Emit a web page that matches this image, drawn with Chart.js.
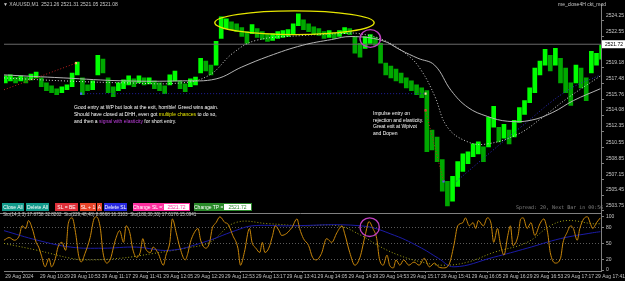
<!DOCTYPE html>
<html>
<head>
<meta charset="utf-8">
<script src="https://cdn.jsdelivr.net/npm/chart.js@4.4.1/dist/chart.umd.min.js"></script>
<style>
html, body { margin: 0; padding: 0; background: #000; overflow: hidden; }
#wrap { position: relative; width: 625px; height: 281px; }
#wrap canvas { position: absolute; left: 0; top: 0; }
.t { position: absolute; font-family: "Liberation Sans", Arial, sans-serif; font-size: 5px; line-height: 1; color: #c8c8c8; white-space: nowrap; }
.note { color: #fff; line-height: 7px; }
.btn { position: absolute; top: 203px; height: 8px; line-height: 8px; font-family: "Liberation Sans", Arial, sans-serif; font-size: 5px; color: #fff; text-align: center; white-space: nowrap; }
.inp { background: #fff; box-sizing: border-box; }
</style>
</head>
<body>
<div id="wrap">
  <canvas id="chart" width="625" height="281"></canvas>

  <div class="t" style="left:3px;top:2px;">▼ XAUUSD,M1&nbsp; 2521.26 2521.31 2521.05 2521.08</div>
  <div class="t" style="left:558px;top:2px;">me_close4H ckt_mod</div>

  <div class="t note" style="left:74px;top:104px;">
    Good entry at WP but look at the exit, horrible! Greed wins again.<br>
    Should have closed at DHH, even got <span style="color:#e6e600">multiple chances</span> to do so,<br>
    and then a <span style="color:#c040e0">signal with elasticity</span> for short entry.
  </div>
  <div class="t note" style="left:373px;top:110px;line-height:6.5px;">
    Impulse entry on<br>rejection and elasticity.<br>Great exit at Wpivot<br>and Dopen
  </div>

  <div class="t" style="left:516px;top:205px;font-family:'DejaVu Sans Mono',monospace;color:#808080;">Spread: 20, Next Bar in 00:56</div>

  <div class="btn" style="left:2px;width:22px;background:#139a8b;">Close All</div>
  <div class="btn" style="left:26px;width:23px;background:#139a8b;">Delete All</div>
  <div class="btn" style="left:55px;width:23px;background:#e0303a;">SL = BE</div>
  <div class="btn" style="left:80px;width:16px;background:#e8452a;">SL + 1</div>
  <div class="btn" style="left:97px;width:5px;background:#e8452a;">A</div>
  <div class="btn" style="left:104px;width:23px;background:#2828e0;">Delete SL</div>
  <div class="btn" style="left:133px;width:30px;background:#ff30a0;">Change SL =&gt;</div>
  <div class="btn inp" style="left:163px;width:27px;border:1px solid #ff30a0;color:#ff30a0;line-height:6px;">2521.72</div>
  <div class="btn" style="left:194px;width:29px;background:#2a8a2a;">Change TP =&gt;</div>
  <div class="btn inp" style="left:223px;width:29px;border:1px solid #2a8a2a;color:#2a8a2a;line-height:6px;">2521.72</div>

  <div class="t" style="left:3px;top:213px;font-size:4.6px;">Sto(14,3,3) 17.8758 32.8202&nbsp; Sto(229,48,48) 8.8668 16.3103&nbsp; Sto(180,30,30) 17.6176 15.0941</div>
</div>

<script>
// minutes after 10:00, 29 Aug 2024
var barStart = 2, barMinutes = 4;

var barHigh = [2518.30,2518.41,2518.19,2518.30,2518.19,2518.51,2518.72,2518.09,2517.56,2517.24,
  2516.92,2517.13,2517.34,2518.62,2519.79,2518.09,2517.34,2517.77,2520.53,2520.11,
  2518.09,2517.13,2517.56,2517.87,2518.30,2517.98,2518.30,2518.09,2518.09,2517.77,
  2517.56,2517.24,2518.41,2518.83,2517.77,2517.45,2517.98,2518.19,2520.21,2519.89,
  2519.47,2522.02,2524.68,2524.47,2524.15,2523.93,2523.51,2523.08,2523.83,2523.40,
  2523.08,2522.87,2522.87,2523.08,2523.19,2523.30,2523.93,2525.00,2524.36,2523.93,
  2523.61,2523.40,2523.08,2523.19,2522.98,2523.19,2523.51,2523.40,2522.55,2521.81,
  2522.55,2522.76,2522.45,2521.81,2519.68,2519.36,2519.04,2518.62,2518.09,2517.77,
  2517.34,2517.02,2516.71,2512.45,2511.71,2509.27,2506.93,2507.46,2509.05,2509.90,
  2510.12,2510.97,2511.18,2510.65,2513.84,2515.01,2512.77,2513.09,2512.45,2513.52,
  2514.90,2515.64,2517.02,2519.15,2519.89,2521.17,2520.53,2521.28,2520.21,2519.15,
  2517.56,2519.47,2519.15,2518.09,2520.96,2520.75,2521.60];
var barLow = [2517.56,2517.77,2517.56,2517.77,2517.56,2517.87,2518.09,2517.13,2516.71,2516.49,
  2516.28,2516.49,2516.81,2517.13,2518.41,2516.28,2516.71,2516.81,2518.41,2518.62,
  2516.49,2516.07,2516.71,2516.92,2517.34,2517.13,2517.56,2517.34,2517.45,2516.92,
  2516.71,2516.39,2517.34,2517.77,2516.92,2516.60,2517.13,2517.34,2518.62,2518.83,
  2518.41,2519.47,2522.34,2523.40,2523.30,2523.08,2522.55,2521.81,2522.87,2522.45,
  2522.23,2522.02,2522.13,2522.34,2522.45,2522.55,2522.87,2523.72,2523.30,2523.08,
  2522.76,2522.66,2522.34,2522.45,2522.34,2522.55,2522.87,2522.76,2520.75,2520.32,
  2521.28,2521.81,2521.60,2519.68,2518.41,2518.09,2517.77,2517.56,2517.02,2516.71,
  2516.28,2515.96,2510.12,2510.33,2509.05,2505.86,2504.27,2504.80,2506.39,2507.99,
  2508.84,2509.58,2509.90,2509.05,2510.65,2512.77,2511.18,2511.60,2510.97,2511.71,
  2513.30,2514.15,2515.43,2516.49,2518.41,2519.47,2518.83,2519.47,2517.56,2516.49,
  2515.11,2517.56,2517.02,2515.64,2518.62,2519.47,2520.11];

var maSlowTime = [1,47,94,140,166,186,207,233,256,271,295,310,323,336,349,362,377,393,411,428,444,465];
var maSlow = [2518.41,2518.09,2517.77,2517.77,2517.98,2519.26,2520.43,2521.60,2522.23,2522.55,2522.13,
  2521.06,2520.21,2519.47,2516.71,2514.90,2513.94,2513.41,2513.52,2514.37,2515.64,2516.92];
var maFastTime = [1,47,94,140,161,179,197,233,264,277,297,316,326,336,346,362,377,401,418,439,465];
var maFast = [2518.09,2517.77,2517.56,2517.56,2518.41,2520.75,2522.13,2522.66,2522.87,2522.87,2522.13,
  2520.43,2518.83,2516.17,2512.77,2511.18,2510.97,2512.03,2513.62,2515.86,2518.30];
var maBlueTime = [353,380,403,439,465];
var maBlue = [2506.93,2510.12,2512.77,2516.71,2518.41];

var bidPrice = 2521.72;
var entryLevel = 2516.39, entryFrom = 61, entryTo = 329;
var trade1Time = [1,57], trade1 = [2516.81,2519.68];
var trade2Time = [329,343], trade2 = [2514.58,2506.93];

var priceTicks = [2524.25,2522.55,2519.18,2517.48,2515.76,2514.08,2512.35,2510.55,2508.85,2507.15,2505.45,2503.75];

var stochTime = [1,5,9,13,15,18,20,23,26,28,30,33,36,38,41,43,46,49,51,54,57,59,61,64,68,71,73,76,78,81,
  84,86,88,91,94,96,99,101,104,107,109,111,115,117,121,125,127,130,132,135,138,142,144,146,149,152,154,158,161,163,
  166,169,173,175,179,183,185,188,192,194,197,200,202,204,207,210,212,215,217,221,225,229,231,234,238,241,244,248,252,256,
  260,264,266,270,274,278,282,285,288,291,293,296,299,301,304,306,309,312,316,320,324,328,332,336,339,343,347,351,354,358,
  360,363,366,368,370,374,377,380,382,385,387,390,393,395,397,401,403,405,408,411,414,418,421,424,426,430,434,436,439,442,
  444,447,449,452,455,457,459,462,465];
var stochMain = [56,61,56,65,83,78,93,78,52,43,28,6,22,6,22,43,52,37,87,98,65,28,15,31,61,96,100,78,33,13,
  22,41,59,74,52,83,69,41,24,33,59,41,33,43,31,9,28,52,96,70,41,19,31,52,70,78,56,41,52,78,
  89,100,89,87,65,41,9,33,78,52,41,33,52,33,41,65,83,74,65,69,80,96,78,59,46,24,19,31,59,52,
  70,83,69,33,9,24,65,91,78,59,22,9,28,9,4,19,9,19,9,15,9,22,6,13,6,4,9,46,83,89,
  98,83,89,78,93,83,98,87,52,78,52,28,65,83,46,65,96,98,78,89,65,87,96,70,33,13,22,52,70,83,
  78,56,78,96,100,89,78,89,98];
var stochSlowTime = [1,27,53,78,104,130,156,181,194,220,279,305,326,339,351,382,408,434,459,465];
var stochSlow = [74,56,43,41,43,37,52,74,83,83,83,65,41,22,6,24,41,59,70,72];
var stochLongTime = [1,27,53,65,91,117,142,161,181,207,233,261,279,292,308,326,343,362,382,408,426,439,459,465];
var stochLong = [50,37,22,19,22,31,41,52,89,87,83,83,65,46,28,15,9,15,33,52,83,93,87,87];

var stochTicks = [0,20,50,80,100];
var tickMinutes = [2,29,53,77,101,125,149,173,197,221,245,269,293,317,341,365,389,413,437,461];
var tickLabels = ['29 Aug 2024','29 Aug 10:29','29 Aug 10:53','29 Aug 11:17','29 Aug 11:41','29 Aug 12:05',
  '29 Aug 12:29','29 Aug 12:53','29 Aug 13:17','29 Aug 13:41','29 Aug 14:05','29 Aug 14:29','29 Aug 14:53',
  '29 Aug 15:17','29 Aug 15:41','29 Aug 16:05','29 Aug 16:29','29 Aug 16:53','29 Aug 17:17','29 Aug 17:41'];

// circled areas
var marks = [
  {t1: 165, t2: 289, v1: 2525.32, v2: 2522.76, axis: 'y', color: '#e6e600'},
  {t1: 278, t2: 294, v1: 2523.30, v2: 2521.38, axis: 'y', color: '#c040c0'},
  {t1: 278, t2: 293, v1: 98, v2: 63, axis: 'y2', color: '#c040c0'}
];

function pairs(t, v) {
  return t.map(function(m, i) { return {x: m, y: v[i]}; });
}

var bars = [];
var barColors = [];
for (var i = 0; i < barHigh.length; i++) {
  bars.push({x: barStart + i * barMinutes, y: [barLow[i], barHigh[i]]});
  var mid = (barHigh[i] + barLow[i]) / 2;
  var prev = i > 0 ? (barHigh[i - 1] + barLow[i - 1]) / 2 : mid;
  barColors.push(mid >= prev ? '#00ff00' : '#00a800');
}

var overlay = {
  id: 'overlay',
  beforeDraw: function(chart) {
    var c = chart.ctx;
    c.save();
    c.fillStyle = '#000';
    c.fillRect(0, 0, chart.width, chart.height);
    c.restore();
  },
  afterDatasetsDraw: function(chart) {
    var c = chart.ctx, x = chart.scales.x, y = chart.scales.y;
    c.save();
    // panel separator
    c.strokeStyle = '#808080';
    c.lineWidth = 1;
    c.beginPath();
    c.moveTo(0, Math.round(y.bottom) + 0.5);
    c.lineTo(chart.chartArea.right, Math.round(y.bottom) + 0.5);
    c.stroke();

    marks.forEach(function(m) {
      var s = chart.scales[m.axis];
      var x1 = x.getPixelForValue(m.t1), x2 = x.getPixelForValue(m.t2);
      var y1 = s.getPixelForValue(m.v1), y2 = s.getPixelForValue(m.v2);
      c.strokeStyle = m.color;
      c.lineWidth = 1.4;
      c.beginPath();
      c.ellipse((x1 + x2) / 2, (y1 + y2) / 2, Math.abs(x2 - x1) / 2, Math.abs(y2 - y1) / 2, 0, 0, Math.PI * 2);
      c.stroke();
    });

    // bid label on the price scale
    var by = y.getPixelForValue(bidPrice);
    c.fillStyle = '#fff';
    c.fillRect(602, by - 4, 23, 8);
    c.fillStyle = '#000';
    c.font = '5px "Liberation Sans", Arial, sans-serif';
    c.textBaseline = 'middle';
    c.fillText(bidPrice.toFixed(2), 605, by + 0.5);
    c.restore();
  }
};

Chart.defaults.font.family = '"Liberation Sans", Arial, sans-serif';

new Chart(document.getElementById('chart'), {
  type: 'line',
  data: {
    datasets: [
      {type: 'line', data: pairs(trade1Time, trade1), borderColor: '#c02020', borderWidth: 1, borderDash: [1, 2], pointRadius: 0},
      {type: 'line', data: pairs(trade2Time, trade2), borderColor: '#c02020', borderWidth: 1, borderDash: [1, 2], pointRadius: 0},
      {type: 'scatter', data: [{x: 57, y: 2519.68}, {x: 329, y: 2514.58}, {x: 61, y: 2516.39}, {x: 343, y: 2506.93}, {x: 329, y: 2516.39}],
        pointStyle: 'rect', pointRadius: 1.5, borderWidth: 0,
        backgroundColor: ['#ffc070', '#ff4040', '#5060ff', '#5060ff', '#f0e0a0']},
      {type: 'line', data: [{x: entryFrom, y: entryLevel}, {x: entryTo, y: entryLevel}], borderColor: '#2020a0', borderWidth: 1, borderDash: [1, 2], pointRadius: 0},
      {type: 'line', data: pairs(maSlowTime, maSlow), borderColor: '#b4b4b4', borderWidth: 1, pointRadius: 0, tension: 0.4},
      {type: 'line', data: pairs(maFastTime, maFast), borderColor: '#d0d0d0', borderWidth: 1, borderDash: [1, 2], pointRadius: 0, tension: 0.4},
      {type: 'line', data: pairs(maBlueTime, maBlue), borderColor: '#2c2cc0', borderWidth: 1, borderDash: [1, 2], pointRadius: 0, tension: 0.4},
      {type: 'line', data: [{x: 1, y: bidPrice}, {x: 465.5, y: bidPrice}], borderColor: '#6a6a6a', borderWidth: 1, pointRadius: 0},
      {type: 'bar', data: bars, backgroundColor: barColors, barThickness: 4, borderWidth: 0},

      {type: 'line', yAxisID: 'y2', data: pairs(stochTime, stochMain), borderColor: '#c8860a', borderWidth: 1, pointRadius: 0, cubicInterpolationMode: 'monotone'},
      {type: 'line', yAxisID: 'y2', data: pairs(stochSlowTime, stochSlow), borderColor: '#1c1ca8', borderWidth: 1, pointRadius: 0, tension: 0.4},
      {type: 'line', yAxisID: 'y2', data: pairs(stochLongTime, stochLong), borderColor: '#a0a014', borderWidth: 1, borderDash: [1, 2], pointRadius: 0, tension: 0.4}
    ]
  },
  options: {
    responsive: false,
    animation: false,
    layout: {padding: 0},
    plugins: {legend: {display: false}, tooltip: {enabled: false}},
    scales: {
      x: {
        type: 'linear', min: 1, max: 465.5, offset: false,
        grid: {drawOnChartArea: false, drawTicks: true, tickLength: 2, color: '#808080'},
        border: {display: true, color: '#808080'},
        afterBuildTicks: function(s) { s.ticks = tickMinutes.map(function(v) { return {value: v}; }); },
        afterFit: function(s) { s.height = 10; s.paddingLeft = 0; s.paddingRight = 0; },
        ticks: {
          autoSkip: false, maxRotation: 0, align: 'start', padding: 1,
          color: '#c0c0c0', font: {size: 5},
          callback: function(v, i) { return tickLabels[i]; }
        }
      },
      y: {
        position: 'right', stack: 'panels', stackWeight: 212,
        min: 2503.53, max: 2526.06,
        grid: {drawOnChartArea: false, drawTicks: true, tickLength: 3, color: '#808080'},
        border: {display: true, color: '#808080'},
        afterBuildTicks: function(s) { s.ticks = priceTicks.map(function(v) { return {value: v}; }); },
        afterFit: function(s) { s.width = 24; s.paddingTop = 0; s.paddingBottom = 0; },
        ticks: {
          autoSkip: false, padding: 2, labelOffset: -5, color: '#c8c8c8', font: {size: 5},
          callback: function(v) { return v.toFixed(2); }
        }
      },
      y2: {
        position: 'right', stack: 'panels', stackWeight: 59,
        min: -1.85, max: 107.4,
        grid: {
          drawOnChartArea: true, drawTicks: true, tickLength: 3,
          color: function(c) { return (c.tick && [20, 50, 80].indexOf(c.tick.value) >= 0) ? '#5a5a5a' : 'rgba(0,0,0,0)'; },
          tickColor: '#808080'
        },
        border: {display: true, color: '#808080', dash: [1, 2]},
        afterBuildTicks: function(s) { s.ticks = stochTicks.map(function(v) { return {value: v}; }); },
        afterFit: function(s) { s.width = 24; s.paddingTop = 0; s.paddingBottom = 0; },
        ticks: {autoSkip: false, padding: 2, color: '#c8c8c8', font: {size: 5}}
      }
    }
  },
  plugins: [overlay]
});
</script>
</body>
</html>
